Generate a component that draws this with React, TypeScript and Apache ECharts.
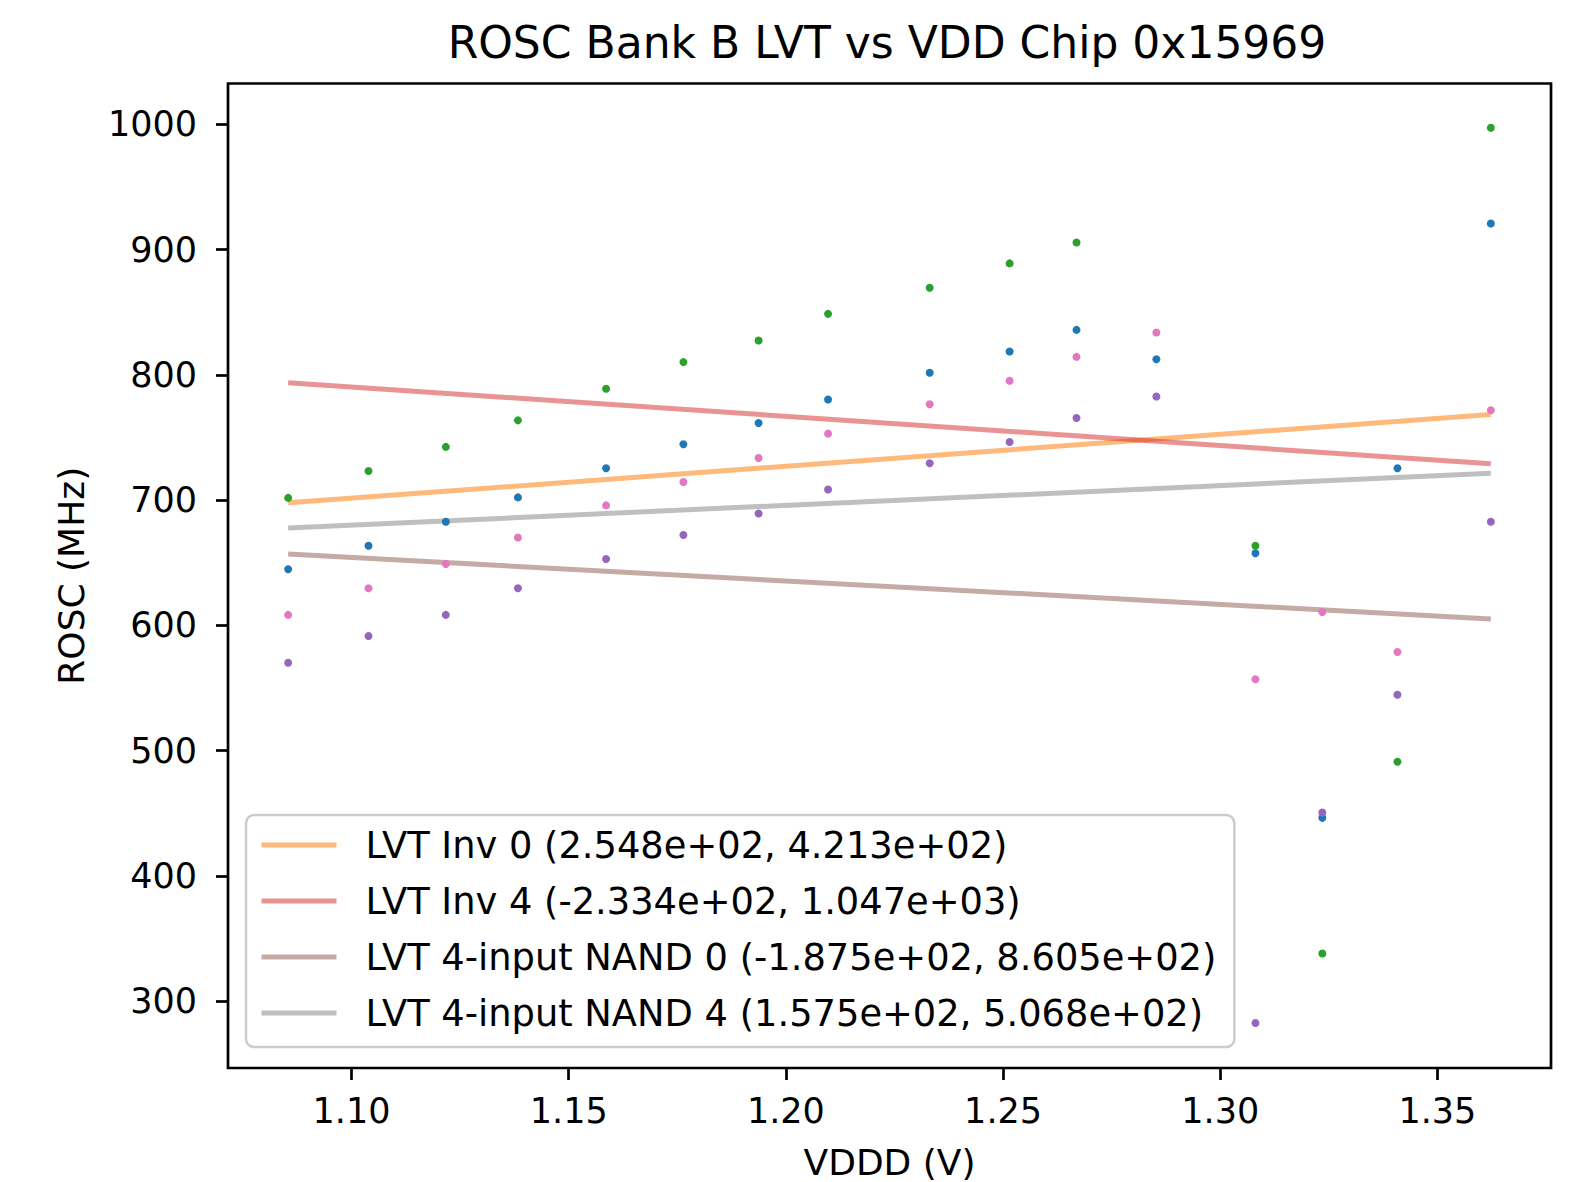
import React, { useEffect, useRef } from "react";
import * as echarts from "echarts";

const FONT = "DejaVu Sans";

// Supply voltage (V) of each measurement
const vdd = [1.0854, 1.1039, 1.1217, 1.1383, 1.1586, 1.1764, 1.1937, 1.2097, 1.2331, 1.2515, 1.2669, 1.2853, 1.3081, 1.3235, 1.3408, 1.3623];

// ROSC frequencies (MHz)
const inv0 = [644.8, 663.6, 682.7, 702.2, 725.5, 744.6, 761.6, 780.4, 801.7, 818.7, 835.9, 812.5, 657.6, 446.4, 725.5, 920.8];
const inv4 = [701.8, 723.3, 742.5, 763.7, 788.9, 810.2, 827.4, 848.7, 869.6, 889.0, 905.7, null, 663.6, 338.1, 491.2, 997.3];
const nand0 = [570.2, 591.5, 608.4, 629.7, 653.0, 672.2, 689.4, 708.5, 729.5, 746.4, 765.6, 782.8, 282.6, 450.7, 544.6, 682.7];
const nand4 = [608.4, 629.7, 649.0, 670.2, 695.8, 714.5, 733.7, 753.1, 776.5, 795.3, 814.4, 833.8, 557.0, 610.7, 578.8, 771.7];

// Linear fit end points
const fitX = [1.0854, 1.3623];
const fitInv0 = [697.9, 768.4];
const fitInv4 = [793.7, 729.0];
const fitNand0 = [657.0, 605.1];
const fitNand4 = [677.8, 721.4];

const fitNames = [
  "LVT Inv 0 (2.548e+02, 4.213e+02)",
  "LVT Inv 4 (-2.334e+02, 1.047e+03)",
  "LVT 4-input NAND 0 (-1.875e+02, 8.605e+02)",
  "LVT 4-input NAND 4 (1.575e+02, 5.068e+02)",
];

const xTicks = [1.1, 1.15, 1.2, 1.25, 1.3, 1.35];
const yTicks = [300, 400, 500, 600, 700, 800, 900, 1000];

const title = "ROSC Bank B LVT vs VDD Chip 0x15969";
const xName = "VDDD (V)";
const yName = "ROSC (MHz)";

function pts(vals: (number | null)[]) {
  const out: number[][] = [];
  vals.forEach((v, i) => {
    if (v != null) out.push([vdd[i], v]);
  });
  return out;
}
function fit(vals: number[]) {
  return fitX.map((x, i) => [x, vals[i]]);
}

export default function App() {
  const ref = useRef<HTMLDivElement>(null);
  useEffect(() => {
    document.body.style.margin = "0";
    const chart = echarts.init(ref.current!, undefined, { renderer: "svg" });
    const scatter = (name: string, vals: (number | null)[], color: string) => ({
      name,
      type: "scatter",
      data: pts(vals),
      symbolSize: 8,
      itemStyle: { color, opacity: 1 },
      z: 3,
    });
    const line = (name: string, vals: number[], color: string) => ({
      name,
      type: "line",
      data: fit(vals),
      symbol: "none",
      lineStyle: { color, width: 5 },
      itemStyle: { color },
      z: 3,
    });
    chart.setOption({
      animation: false,
      backgroundColor: "#ffffff",
      title: {
        text: title,
        left: 887,
        top: 42,
        textAlign: "center",
        textVerticalAlign: "middle",
        padding: 0,
        textStyle: { fontFamily: FONT, fontSize: 44, fontWeight: "normal", color: "#000" },
      },
      grid: {
        left: 228,
        top: 83.5,
        width: 1323,
        height: 984.5,
        outerBoundsMode: "none",
        containLabel: false,
        show: true,
        borderColor: "#000",
        borderWidth: 2.7,
        backgroundColor: "transparent",
      },
      legend: {
        data: fitNames,
        orient: "vertical",
        left: 246,
        top: 815,
        padding: [10, 18, 14, 13],
        itemWidth: 75,
        itemHeight: 6,
        itemGap: 16,
        backgroundColor: "rgba(255,255,255,0.8)",
        borderColor: "#cccccc",
        borderWidth: 2.5,
        borderRadius: 8,
        itemStyle: { opacity: 0 },
        lineStyle: { width: 5 },
        textStyle: {
          fontFamily: FONT,
          fontSize: 36.8,
          color: "#000",
          lineHeight: 40,
          padding: [0, 0, 0, 24],
        },
      },
      xAxis: {
        type: "value",
        min: 1.07155,
        max: 1.37615,
        name: xName,
        nameLocation: "middle",
        nameGap: 76,
        nameTextStyle: { fontFamily: FONT, fontSize: 36, color: "#000" },
        axisLine: { show: false },
        splitLine: { show: false },
        axisTick: {
          show: true,
          inside: false,
          length: 12,
          customValues: xTicks,
          lineStyle: { color: "#000", width: 2.7 },
        },
        axisLabel: {
          customValues: xTicks,
          margin: 25,
          fontFamily: FONT,
          fontSize: 35,
          color: "#000",
          formatter: (v: number) => v.toFixed(2),
        },
      },
      yAxis: {
        type: "value",
        min: 246.7,
        max: 1032.6,
        name: yName,
        nameLocation: "middle",
        nameRotate: 90,
        nameGap: 139,
        nameTextStyle: { fontFamily: FONT, fontSize: 36, color: "#000" },
        axisLine: { show: false },
        splitLine: { show: false },
        axisTick: {
          show: true,
          inside: false,
          length: 12,
          customValues: yTicks,
          lineStyle: { color: "#000", width: 2.7 },
        },
        axisLabel: {
          customValues: yTicks,
          margin: 31,
          fontFamily: FONT,
          fontSize: 35,
          color: "#000",
          formatter: (v: number) => String(Math.round(v)),
        },
      },
      series: [
        scatter("LVT Inv 0 data", inv0, "#1f77b4"),
        line(fitNames[0], fitInv0, "rgba(255,127,14,0.55)"),
        scatter("LVT Inv 4 data", inv4, "#2ca02c"),
        line(fitNames[1], fitInv4, "rgba(214,39,40,0.5)"),
        scatter("LVT 4-input NAND 0 data", nand0, "#9467bd"),
        line(fitNames[2], fitNand0, "rgba(140,86,75,0.5)"),
        scatter("LVT 4-input NAND 4 data", nand4, "#e377c2"),
        line(fitNames[3], fitNand4, "rgba(127,127,127,0.5)"),
      ],
    });
    return () => chart.dispose();
  }, []);
  return <div ref={ref} style={{ width: 1577, height: 1182 }} />;
}
